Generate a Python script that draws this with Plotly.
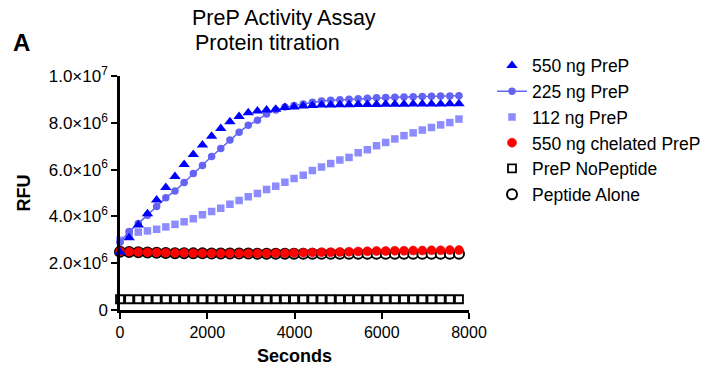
import plotly.graph_objects as go

# time points (seconds)
seconds = [i * 210 for i in range(38)]

# RFU values (x 1e6)
prep_550 = [2.47, 3.09, 3.63, 4.11, 4.70, 5.24, 5.71, 6.22, 6.65, 7.05, 7.42, 7.76, 8.04, 8.27,
            8.43, 8.50, 8.55, 8.58, 8.65, 8.68, 8.72, 8.74, 8.76, 8.76, 8.77, 8.77, 8.78, 8.78,
            8.78, 8.79, 8.79, 8.79, 8.80, 8.80, 8.80, 8.80, 8.81, 8.81]
prep_225 = [2.90, 3.35, 3.70, 4.05, 4.42, 4.80, 5.09, 5.45, 5.83, 6.18, 6.56, 6.90, 7.27, 7.60,
            7.89, 8.11, 8.38, 8.55, 8.67, 8.74, 8.80, 8.88, 8.93, 8.96, 8.98, 9.01, 9.03, 9.05,
            9.07, 9.08, 9.09, 9.10, 9.11, 9.12, 9.13, 9.14, 9.15, 9.16]
prep_112 = [2.98, 3.26, 3.33, 3.38, 3.45, 3.55, 3.66, 3.77, 3.90, 4.07, 4.21, 4.35, 4.52, 4.68,
            4.84, 4.98, 5.15, 5.29, 5.46, 5.62, 5.76, 5.96, 6.11, 6.26, 6.41, 6.52, 6.72, 6.85,
            7.02, 7.16, 7.31, 7.45, 7.57, 7.69, 7.80, 7.91, 8.01, 8.16]
chelated_550 = [2.50, 2.49, 2.48, 2.47, 2.46, 2.45, 2.44, 2.44, 2.43, 2.43, 2.42, 2.42, 2.42, 2.42,
                2.42, 2.42, 2.42, 2.43, 2.43, 2.44, 2.45, 2.46, 2.47, 2.47, 2.48, 2.49, 2.50, 2.51,
                2.52, 2.52, 2.53, 2.53, 2.54, 2.54, 2.55, 2.55, 2.56, 2.56]
no_peptide = [0.46] * 38
peptide_alone = [2.49, 2.48, 2.47, 2.46, 2.45, 2.44, 2.43, 2.43, 2.42, 2.42, 2.41, 2.41, 2.41, 2.41,
                 2.41, 2.40, 2.40, 2.40, 2.40, 2.40, 2.40, 2.40, 2.40, 2.40, 2.40, 2.40, 2.40, 2.40,
                 2.40, 2.40, 2.40, 2.40, 2.40, 2.40, 2.40, 2.40, 2.40, 2.40]

y_tick_vals = [0, 2e6, 4e6, 6e6, 8e6, 1e7]
y_tick_text = ["0", "2.0×10<sup>6</sup>", "4.0×10<sup>6</sup>", "6.0×10<sup>6</sup>",
               "8.0×10<sup>6</sup>", "1.0×10<sup>7</sup>"]
x_tick_vals = [0, 2000, 4000, 6000, 8000]

def scale(v):
    return [x * 1e6 for x in v]

FONT = "Liberation Sans, Arial, sans-serif"
W, H = 722, 371
L, R, T, B = 120, 253, 76, 60.5

fig = go.Figure()
fig.add_trace(go.Scatter(x=seconds, y=scale(no_peptide), mode="markers", name="PreP NoPeptide",
                         legendrank=5, cliponaxis=False,
                         marker=dict(symbol="square", size=8, color="white",
                                     line=dict(color="black", width=1.8))))
fig.add_trace(go.Scatter(x=seconds, y=scale(peptide_alone), mode="markers", name="Peptide Alone",
                         legendrank=6, cliponaxis=False,
                         marker=dict(symbol="circle", size=10, color="white",
                                     line=dict(color="black", width=2))))
fig.add_trace(go.Scatter(x=seconds, y=scale(chelated_550), mode="markers", name="550 ng chelated PreP",
                         legendrank=4, cliponaxis=False,
                         marker=dict(symbol="circle", size=9, color="#ff0000",
                                     line=dict(color="#e60000", width=0.5))))
fig.add_trace(go.Scatter(x=seconds, y=scale(prep_112), mode="markers", name="112 ng PreP",
                         legendrank=3, cliponaxis=False,
                         marker=dict(symbol="square", size=7.5, color="#8c8cff",
                                     line=dict(width=0))))
fig.add_trace(go.Scatter(x=seconds, y=scale(prep_225), mode="lines+markers", name="225 ng PreP",
                         legendrank=2, cliponaxis=False,
                         line=dict(color="#6464f4", width=1.5),
                         marker=dict(symbol="circle", size=7.5, color="#6464f4",
                                     line=dict(width=0))))
fig.add_trace(go.Scatter(x=seconds, y=scale(prep_550), mode="markers", name="550 ng PreP",
                         legendrank=1, cliponaxis=False,
                         marker=dict(symbol="triangle-up", size=10, color="#0000ff",
                                     line=dict(width=0))))

pw = W - L - R
ph = H - T - B

def px(xp):
    return (xp - L) / pw

def py(yp):
    return (H - B - yp) / ph

fig.update_layout(
    width=W, height=H,
    margin=dict(l=L, r=R, t=T, b=B, autoexpand=False),
    paper_bgcolor="white", plot_bgcolor="white",
    font=dict(family=FONT, color="black", size=15),
    showlegend=True,
    legend=dict(x=px(492), y=py(47.5), xanchor="left", yanchor="top",
                font=dict(size=17.5, family=FONT), bgcolor="rgba(0,0,0,0)",
                itemsizing="trace", tracegroupgap=0),
    xaxis=dict(range=[0, 8000], tickvals=x_tick_vals, showgrid=False, zeroline=False,
               showline=True, linecolor="black", linewidth=2.5, automargin=False,
               ticks="outside", ticklen=6, tickwidth=2, tickcolor="black",
               tickfont=dict(size=16),
               title=dict(text="<b>Seconds</b>", font=dict(size=18), standoff=10)),
    yaxis=dict(range=[0, 1e7], tickvals=y_tick_vals, ticktext=y_tick_text, showgrid=False,
               zeroline=False, showline=True, linecolor="black", linewidth=2.5, automargin=False,
               ticks="outside", ticklen=6, tickwidth=2, tickcolor="black",
               tickfont=dict(size=17),
               title=dict(text="<b>RFU</b>", font=dict(size=18), standoff=14)),
    annotations=[
        dict(text="PreP Activity Assay", x=px(190), y=py(18), xref="paper", yref="paper",
             showarrow=False, font=dict(size=21.5), xanchor="left", yanchor="middle"),
        dict(text="Protein titration", x=px(193), y=py(43), xref="paper", yref="paper",
             showarrow=False, font=dict(size=21.5), xanchor="left", yanchor="middle"),
        dict(text="<b>A</b>", x=px(11), y=py(42), xref="paper", yref="paper",
             showarrow=False, font=dict(size=24), xanchor="left", yanchor="middle"),
    ],
)

fig.write_html("out.html", config={"displayModeBar": False},
               post_script="document.body.style.margin='0px';")
